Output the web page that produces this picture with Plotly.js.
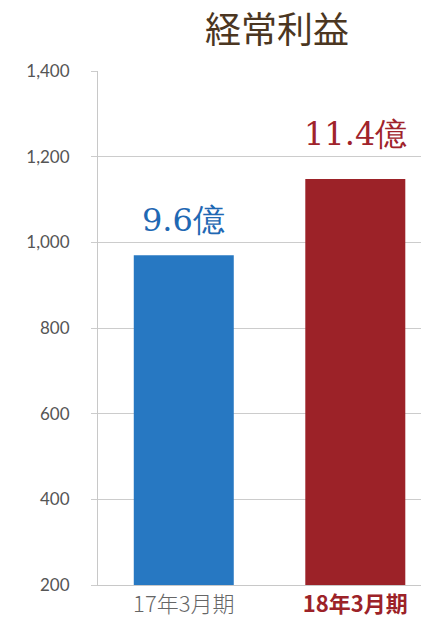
<!DOCTYPE html>
<html>
<head>
<meta charset="utf-8">
<script src="https://cdn.plot.ly/plotly-3.0.1.min.js"></script>
<style>html,body{margin:0;padding:0;background:#fff;}#chart{width:421px;height:620px;}</style>
</head>
<body>
<div id="chart"></div>
<script>
const categories = ["17年3月期", "18年3月期"];
const values = [970, 1148];
const valueLabels = ["9.6億", "11.4億"];
const yTicks = [200, 400, 600, 800, 1000, 1200, 1400];
const yTickText = ["200", "400", "600", "800", "1,000", "1,200", "1,400"];
const barColors = ["#2778C2", "#9C2228"];
const labelColors = ["#1F68B3", "#A0232B"];
const labelShift = [14, 24];
const catTickText = [
  "<span style='color:#666666'>17年3月期</span>",
  "<b><span style='color:#9C2228'>18年3月期</span></b>"
];

const trace = {
  type: "bar",
  x: categories,
  y: values,
  width: 0.583,
  marker: {color: barColors},
  hoverinfo: "none"
};

const annotations = categories.map((c, i) => ({
  x: c, y: values[i], xref: "x", yref: "y",
  text: valueLabels[i],
  showarrow: false,
  xanchor: "center", yanchor: "bottom", yshift: labelShift[i],
  font: {family: "DejaVu Serif, serif", size: 32, color: labelColors[i]}
}));

const layout = {
  width: 421, height: 620,
  margin: {l: 98, r: 0, t: 71, b: 35},
  paper_bgcolor: "#ffffff", plot_bgcolor: "#ffffff",
  showlegend: false,
  title: {
    text: "経常利益",
    x: 277/421, xref: "container", xanchor: "center",
    y: 1 - 30/620, yref: "container", yanchor: "middle",
    font: {family: "'Noto Sans CJK JP', serif", size: 36, color: "#4B3621"}
  },
  xaxis: {
    type: "category",
    range: [-0.5, 1.383],
    tickvals: categories,
    ticktext: catTickText,
    showgrid: false,
    showline: true, linecolor: "#c8c8c8", linewidth: 1,
    ticks: "",
    tickfont: {family: "'Noto Sans CJK JP', sans-serif", size: 22, color: "#666666", weight: 300},
    fixedrange: true
  },
  yaxis: {
    range: [200, 1400],
    tickvals: yTicks,
    ticktext: yTickText,
    showgrid: true, gridcolor: "#cccccc", gridwidth: 1,
    showline: true, linecolor: "#c8c8c8", linewidth: 1,
    ticks: "outside", ticklen: 6, tickcolor: "#cccccc",
    ticklabelstandoff: 18,
    tickfont: {family: "Lato, sans-serif", size: 17, color: "#555555"},
    zeroline: false,
    fixedrange: true
  },
  annotations: annotations
};

Plotly.newPlot("chart", [trace], layout, {displayModeBar: false, staticPlot: true});
</script>
</body>
</html>
